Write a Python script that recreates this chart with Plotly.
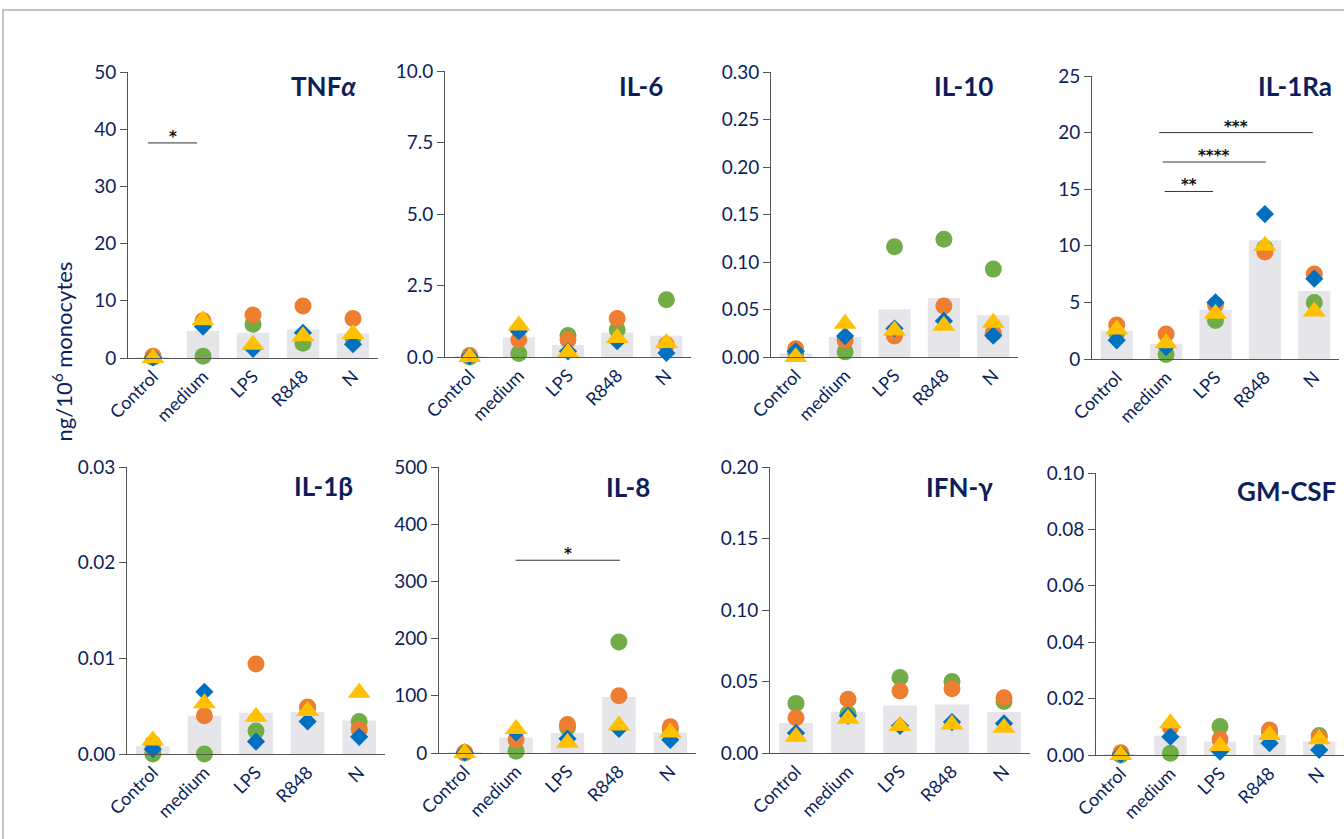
import plotly.graph_objects as go

W, H = 1344, 839
categories = ["Control", "medium", "LPS", "R848", "N"]

# ---- data ----
tnf_mean   = [0.1, 4.7, 4.4, 5.0, 4.3]
tnf_orange = [0.3, 6.5, 7.5, 9.1, 6.9]
tnf_blue   = [0.1, 5.5, 1.6, 4.4, 2.4]
tnf_green  = [0.1, 0.3, 5.9, 2.6, 3.5]
tnf_yellow = [0.0, 6.6, 2.3, 3.8, 4.2]

il6_mean   = [0.02, 0.69, 0.42, 0.86, 0.74]
il6_orange = [0.05, 0.6, 0.6, 1.35, 0.43]
il6_blue   = [0.03, 0.9, 0.2, 0.55, 0.14]
il6_green  = [0.0, 0.12, 0.75, 0.95, 2.0]
il6_yellow = [0.0, 1.1, 0.15, 0.66, 0.49]

il10_mean   = [0.004, 0.021, 0.050, 0.062, 0.044]
il10_orange = [0.0086, 0.0175, 0.022, 0.0536, 0.025]
il10_blue   = [0.006, 0.022, 0.030, 0.038, 0.0225]
il10_green  = [0.004, 0.0054, 0.116, 0.124, 0.0925]
il10_yellow = [0.0, 0.035, 0.028, 0.033, 0.036]

il1ra_mean   = [2.5, 1.35, 4.35, 10.5, 6.0]
il1ra_orange = [3.0, 2.2, 4.8, 9.45, 7.5]
il1ra_blue   = [1.65, 1.05, 5.0, 12.8, 7.1]
il1ra_green  = [2.3, 0.4, 3.4, 9.8, 5.0]
il1ra_yellow = [2.6, 1.4, 4.0, 10.0, 4.2]

il1b_mean   = [0.0008, 0.0040, 0.0043, 0.0044, 0.0035]
il1b_orange = [0.0011, 0.0040, 0.0094, 0.0049, 0.0026]
il1b_blue   = [0.0005, 0.0065, 0.0013, 0.0034, 0.0018]
il1b_green  = [0.0, 0.0, 0.0024, 0.0048, 0.0034]
il1b_yellow = [0.0014, 0.0053, 0.0039, 0.0045, 0.0064]

il8_mean   = [1, 27, 35, 98, 36]
il8_orange = [1, 23, 50, 100, 46]
il8_blue   = [1, 36, 25, 42, 23]
il8_green  = [0, 3, 45, 194, 40]
il8_yellow = [0, 42, 18, 48, 36]

ifn_mean   = [0.021, 0.0286, 0.0333, 0.034, 0.0286]
ifn_orange = [0.0246, 0.0376, 0.0434, 0.045, 0.0387]
ifn_blue   = [0.014, 0.026, 0.019, 0.0216, 0.0207]
ifn_green  = [0.0347, 0.0275, 0.0528, 0.050, 0.036]
ifn_yellow = [0.0113, 0.024, 0.0188, 0.020, 0.0176]

gm_mean   = [0.0003, 0.0068, 0.0048, 0.0071, 0.0048]
gm_orange = [0.0008, 0.0098, 0.0056, 0.0089, 0.0063]
gm_blue   = [0.0003, 0.0065, 0.0012, 0.0042, 0.0018]
gm_green  = [0.0, 0.0006, 0.0101, 0.008, 0.0069]
gm_yellow = [0.0, 0.0113, 0.0032, 0.0071, 0.0056]

panel_titles = ["TNF<i>α</i>", "IL-6", "IL-10", "IL-1Ra", "IL-1β", "IL-8", "IFN-γ", "GM-CSF"]
y_ranges = [50, 10, 0.30, 25, 0.03, 500, 0.20, 0.10]
y_dticks = [10, 2.5, 0.05, 5, 0.01, 100, 0.05, 0.02]
y_formats = ["d", ".1f", ".2f", "d", ".2f", "d", ".2f", ".2f"]

panel_data = [
    (tnf_mean, tnf_green, tnf_orange, tnf_blue, tnf_yellow),
    (il6_mean, il6_green, il6_orange, il6_blue, il6_yellow),
    (il10_mean, il10_green, il10_orange, il10_blue, il10_yellow),
    (il1ra_mean, il1ra_green, il1ra_orange, il1ra_blue, il1ra_yellow),
    (il1b_mean, il1b_green, il1b_orange, il1b_blue, il1b_yellow),
    (il8_mean, il8_green, il8_orange, il8_blue, il8_yellow),
    (ifn_mean, ifn_green, ifn_orange, ifn_blue, ifn_yellow),
    (gm_mean, gm_green, gm_orange, gm_blue, gm_yellow),
]

# significance brackets: (panel index, x0, x1, y, stars)
sig_panel = [0, 3, 3, 3, 5]
sig_x0 = [-0.1, 0.86, 0.93, 0.97, 0.99]
sig_x1 = [0.88, 3.97, 3.02, 1.95, 3.02]
sig_y = [37.6, 20.0, 17.4, 14.8, 337]
sig_text = ["*", "***", "****", "**", "*"]

# ---- layout geometry (pixels) ----
x_dom_px = [(128, 378), (445, 691), (771, 1018), (1092, 1339),
            (127, 385), (439, 696), (770, 1030), (1096, 1344)]
y_dom_px = [(72, 358), (71, 357), (72, 357), (76, 359),
            (467, 754), (467, 753), (467, 753), (473, 755)]
title_pos = [(358, 86), (665, 86), (995, 86), (1334, 86),
             (355, 486), (652, 487), (995, 487), (1338, 491)]

NAVY = "#0c1f5b"
FONT = "Lato"
COL_BLUE, COL_ORANGE, COL_GREEN, COL_YELLOW = "#0070c0", "#ed7d31", "#70ad47", "#ffc000"
BAR = "#e6e5e9"

fig = go.Figure()
layout = dict(
    width=W, height=H, margin=dict(l=0, r=0, t=0, b=0, autoexpand=False),
    paper_bgcolor="white", plot_bgcolor="white", showlegend=False,
    font=dict(family=FONT, color=NAVY),
)
annotations = []
shapes = []

xs = list(range(len(categories)))
for i in range(8):
    sfx = "" if i == 0 else str(i + 1)
    xa, ya = "x" + sfx, "y" + sfx
    mean, green, orange, blue, yellow = panel_data[i]
    fig.add_trace(go.Bar(x=xs, y=mean, marker=dict(color=BAR, line=dict(width=0)),
                         width=0.65, xaxis=xa, yaxis=ya, hoverinfo="skip"))
    for vals, sym, col, sz in [(green, "circle", COL_GREEN, 17),
                               (orange, "circle", COL_ORANGE, 17),
                               (blue, "diamond", COL_BLUE, 14),
                               (yellow, "triangle-up", COL_YELLOW, 20)]:
        fig.add_trace(go.Scatter(x=xs, y=vals, mode="markers", xaxis=xa, yaxis=ya,
                                 cliponaxis=False,
                                 marker=dict(symbol=sym, color=col, size=sz, line=dict(width=0))))
    x0, x1 = x_dom_px[i]
    y0, y1 = y_dom_px[i]
    layout["xaxis" + sfx] = dict(
        domain=[x0 / W, x1 / W], anchor=ya, range=[-0.5, 4.5], automargin=False,
        tickmode="array", tickvals=xs, ticktext=categories, tickangle=-45,
        showline=True, linecolor="#555555", linewidth=1, ticks="",
        showgrid=False, zeroline=False, fixedrange=True,
        tickfont=dict(family=FONT, size=18, color=NAVY),
    )
    layout["yaxis" + sfx] = dict(
        domain=[1 - y1 / H, 1 - y0 / H], anchor=xa, range=[0, y_ranges[i]],
        dtick=y_dticks[i], tick0=0, tickformat=y_formats[i], automargin=False,
        showline=True, linecolor="#555555", linewidth=1,
        ticks="outside", ticklen=7, tickcolor="#555555", tickwidth=1,
        showgrid=False, zeroline=False, fixedrange=True,
        tickfont=dict(family=FONT, size=19, color=NAVY),
    )
    tx, ty = title_pos[i]
    annotations.append(dict(x=tx / W, y=1 - ty / H, xref="paper", yref="paper",
                            text="<b>" + panel_titles[i] + "</b>", showarrow=False,
                            xanchor="right", yanchor="middle",
                            font=dict(family=FONT, size=26, color=NAVY)))

for k in range(len(sig_panel)):
    i = sig_panel[k]
    sfx = "" if i == 0 else str(i + 1)
    shapes.append(dict(type="line", xref="x" + sfx, yref="y" + sfx,
                       x0=sig_x0[k], x1=sig_x1[k], y0=sig_y[k], y1=sig_y[k],
                       line=dict(color="#333333", width=1)))
    annotations.append(dict(x=(sig_x0[k] + sig_x1[k]) / 2, y=sig_y[k],
                            xref="x" + sfx, yref="y" + sfx, text="<b>" + sig_text[k] + "</b>",
                            showarrow=False, yanchor="bottom", yshift=-5,
                            font=dict(family="DejaVu Sans", size=15, color="#111111")))

annotations.append(dict(x=45 / W, y=1 - 352 / H, xref="paper", yref="paper",
                        text="ng/10<sup>6</sup> monocytes", textangle=-90, showarrow=False,
                        font=dict(family=FONT, size=22, color=NAVY)))

shapes.append(dict(type="rect", xref="paper", yref="paper",
                   x0=3 / W, x1=1.01, y0=-0.01, y1=1 - 10 / H,
                   line=dict(color="#b0b0b0", width=1.5)))

layout["annotations"] = annotations
layout["shapes"] = shapes
fig.update_layout(**layout)
fig.write_html("out.html", config={"displayModeBar": False},
               post_script="document.body.style.margin='0';document.body.style.overflow='hidden';")
